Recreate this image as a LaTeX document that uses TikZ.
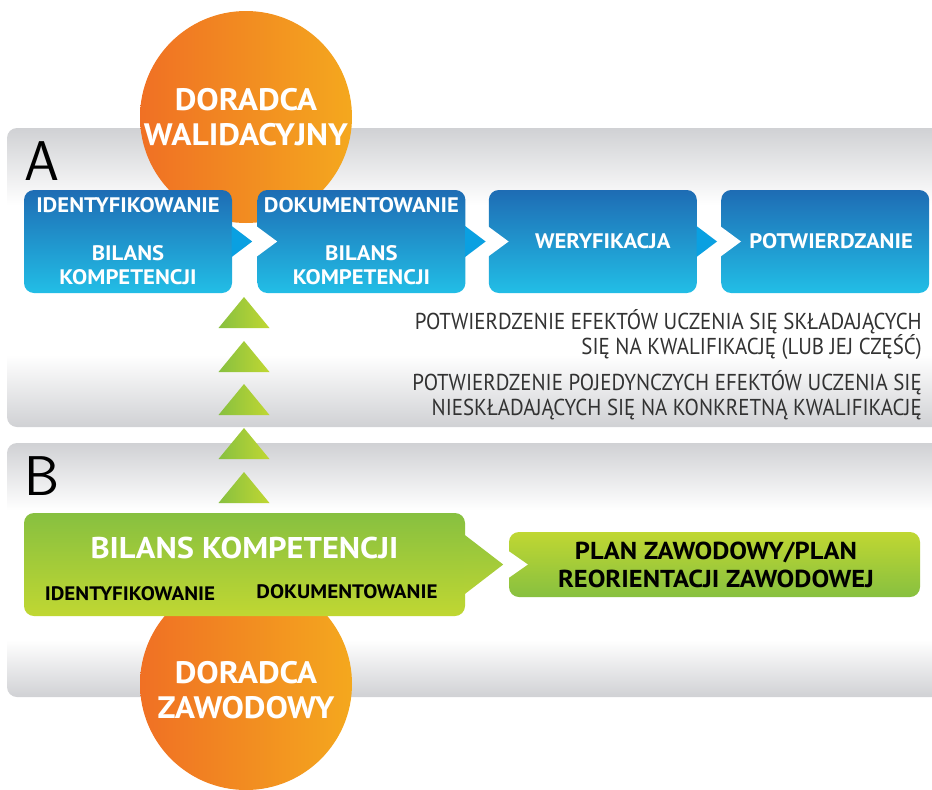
\documentclass[tikz,border=0pt]{standalone}
\usepackage{fontspec}
\setmainfont{PT Sans}[FakeStretch=1.08]
\newfontfamily\thinfont{PT Sans}[FakeStretch=0.91]
\usetikzlibrary{positioning}

\definecolor{blueTop}{RGB}{30,108,180}
\definecolor{blueBot}{RGB}{34,190,230}
\definecolor{blueTip}{RGB}{10,160,225}
\definecolor{greenDk}{RGB}{135,192,64}
\definecolor{greenLt}{RGB}{192,215,50}
\definecolor{orangeL}{RGB}{240,112,36}
\definecolor{orangeR}{RGB}{244,168,30}
\definecolor{bandGray}{RGB}{208,209,212}
\definecolor{thinText}{RGB}{50,50,50}

\tikzset{
    advisor/.style={circle, minimum size=212pt, inner sep=0pt, left color=orangeL, right color=orangeR,
        text=white, align=center, font=\bfseries\fontsize{31}{35}\selectfont},
    stepbox/.style={rounded corners=10pt, minimum width=208pt, minimum height=103pt, inner sep=0pt,
        top color=blueTop, bottom color=blueBot, text=white, align=center,
        font=\bfseries\fontsize{21}{24}\selectfont},
    greenbox/.style={rounded corners=10pt, inner sep=0pt, align=center},
    thinline/.style={anchor=east, inner sep=0pt, align=right, text=thinText,
        font=\thinfont\fontsize{23}{25.5}\selectfont},
    bandletter/.style={anchor=base west, inner sep=0pt, font=\sffamily\fontsize{56}{56}\selectfont}
}

\begin{document}
\begin{tikzpicture}[x=1pt, y=-1pt]
    \useasboundingbox (0,0) rectangle (932,790);
    % gray bands
    \begin{scope}
        \clip[rounded corners=10pt] (7,128) rectangle (950,427);
        \fill[white] (7,128) rectangle (950,427);
        \shade[top color=bandGray, bottom color=white] (7,128) rectangle (950,205);
        \shade[top color=white, bottom color=bandGray] (7,355) rectangle (950,427);
    \end{scope}
    \begin{scope}
        \clip[rounded corners=10pt] (7,443) rectangle (950,697);
        \fill[white] (7,443) rectangle (950,697);
        \shade[top color=bandGray, bottom color=white] (7,443) rectangle (950,510);
        \shade[top color=white, bottom color=bandGray] (7,640) rectangle (950,697);
    \end{scope}
    \node[bandletter] (A) at (24,180) {A};
    \node[bandletter] (B) at (24,495) {B};

    % advisors
    \node[advisor] (walid) at (246,117) {DORADCA\\WALIDACYJNY};
    \node[advisor] (zawod) at (246,684) {};
    \node[text=white, align=center, font=\bfseries\fontsize{31}{35}\selectfont] (zawodtxt) at (246,690) {DORADCA\\ZAWODOWY};

    % path A
    \node[stepbox] (ident) at (128,241.5) {IDENTYFIKOWANIE\\[24pt]BILANS\\KOMPETENCJI};
    \node[stepbox, right=25pt of ident] (dokum) {DOKUMENTOWANIE\\[24pt]BILANS\\KOMPETENCJI};
    \node[stepbox, right=23pt of dokum] (weryf) {\hspace*{20pt}WERYFIKACJA};
    \node[stepbox, right=24pt of weryf] (potw) {\hspace*{12pt}POTWIERDZANIE};
    \foreach \a/\b in {ident/dokum, dokum/weryf, weryf/potw} {
        \fill[white] ([xshift=-1pt, yshift=15.5pt]\b.west) -- ++(21,15.5) -- ++(-21,15.5) -- cycle;
        \fill[blueTip] ([xshift=-0.5pt, yshift=15.5pt]\a.east) -- ++(20.5,15.5) -- ++(-20.5,15.5) -- cycle;
    }

    \node[thinline] (conf1) at (922,334.5) {POTWIERDZENIE EFEKTÓW UCZENIA SIĘ SKŁADAJĄCYCH\\SIĘ NA KWALIFIKACJĘ (LUB JEJ CZĘŚĆ)};
    \node[thinline] (conf2) at (922,395) {POTWIERDZENIE POJEDYNCZYCH EFEKTÓW UCZENIA SIĘ\\NIESKŁADAJĄCYCH SIĘ NA KONKRETNĄ KWALIFIKACJĘ};

    % arrows up
    \foreach \ty in {297,341,384,428,472}
        \shade[left color=greenDk, right color=greenLt] (244,\ty) -- (269.5,\ty+31) -- (218.5,\ty+31) -- cycle;

    % path B
    \node[greenbox, minimum width=441pt, minimum height=103pt, top color=greenDk, bottom color=greenLt] (bilans) at (244.5,564.5) {};
    \shade[top color={rgb,255:red,147;green,197;blue,61}, bottom color={rgb,255:red,181;green,210;blue,53}]
        ([xshift=-1pt, yshift=30pt]bilans.east) -- ++(39,30) -- ++(-39,30) -- cycle;
    \node[text=white, font=\bfseries\fontsize{30}{32}\selectfont] (bilanstxt) at ([yshift=16.5pt]bilans.center) {BILANS KOMPETENCJI};
    \node[font=\bfseries\fontsize{19.5}{20}\selectfont] (identb) at ([xshift=-114.5pt, yshift=-29.5pt]bilans.center) {IDENTYFIKOWANIE};
    \node[font=\bfseries\fontsize{19.5}{20}\selectfont] (dokumb) at ([xshift=102.5pt, yshift=-27.5pt]bilans.center) {DOKUMENTOWANIE};

    \node[greenbox, minimum width=411pt, minimum height=65pt, top color=greenLt, bottom color=greenDk,
        font=\bfseries\fontsize{24.5}{28}\selectfont] (plan) at (714.5,564.5) {\hspace*{3pt}PLAN ZAWODOWY/PLAN\\\hspace*{3pt}REORIENTACJI ZAWODOWEJ};
    \fill[white] ([xshift=-1pt, yshift=14pt]plan.west) -- ++(20,14) -- ++(-20,14) -- cycle;
\end{tikzpicture}
\end{document}
